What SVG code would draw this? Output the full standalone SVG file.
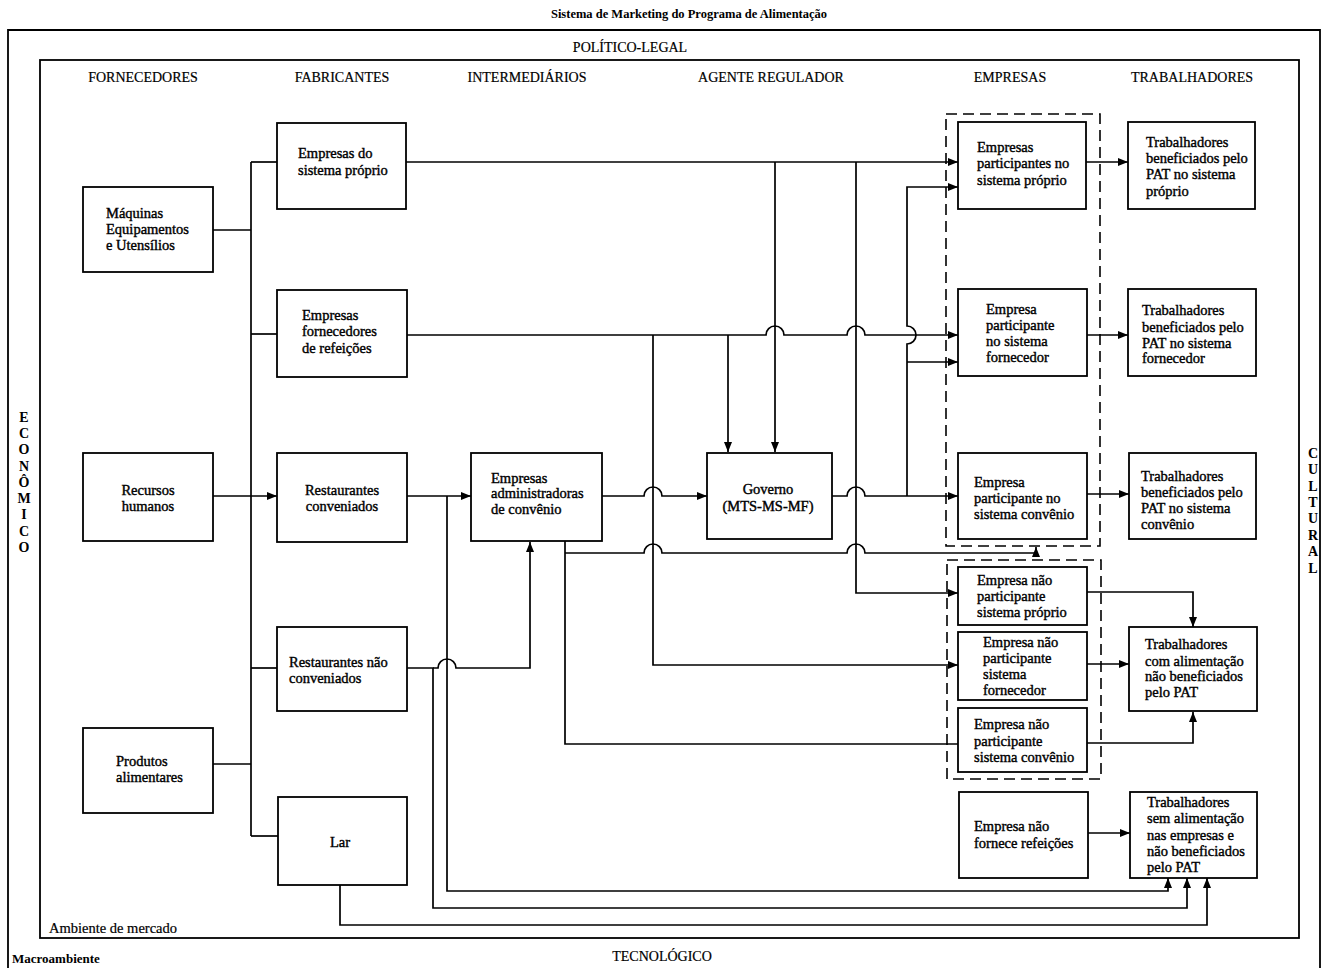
<svg xmlns="http://www.w3.org/2000/svg" width="1328" height="968" viewBox="0 0 1328 968">
<defs>
<style>
.frame{fill:none;stroke:#000;stroke-width:1.8}
.box{fill:#fff;stroke:#000;stroke-width:1.8}
.dash{fill:none;stroke:#000;stroke-width:1.6;stroke-dasharray:11 6}
.c{fill:none;stroke:#000;stroke-width:1.7}
.a{marker-end:url(#ah)}
.t{font-family:"Liberation Serif","Times New Roman",serif;font-size:14.5px;fill:#000;stroke:#000;stroke-width:0.4}
.m{text-anchor:middle}
.h{font-family:"Liberation Serif","Times New Roman",serif;font-size:14px;fill:#000;stroke:#000;stroke-width:0.2;text-anchor:middle}
.v{font-family:"Liberation Serif","Times New Roman",serif;font-size:14px;font-weight:bold;fill:#000;text-anchor:middle}
</style>
<marker id="ah" viewBox="0 0 10 8" refX="10" refY="4" markerWidth="10" markerHeight="8" markerUnits="userSpaceOnUse" orient="auto"><path d="M0,0 L10,4 L0,8 z" fill="#000"/></marker>
</defs>
<rect width="1328" height="968" fill="#fff"/>

<g id="frames">
<path class="frame" d="M8,968 V30 H1320 V968"/>
<rect class="frame" x="40" y="60" width="1259" height="878"/>
<rect class="dash" x="946" y="114" width="154" height="432"/>
<rect class="dash" x="947" y="560" width="154" height="219"/>
</g>

<g id="labels">
<text x="689" y="18" style="font-family:'Liberation Serif','Times New Roman',serif;font-size:12.5px;font-weight:bold;text-anchor:middle">Sistema de Marketing do Programa de Alimentação</text>
<text class="h" x="630" y="52">POLÍTICO-LEGAL</text>
<text class="h" x="143" y="82">FORNECEDORES</text>
<text class="h" x="342" y="82">FABRICANTES</text>
<text class="h" x="527" y="82">INTERMEDIÁRIOS</text>
<text class="h" x="771" y="82">AGENTE REGULADOR</text>
<text class="h" x="1010" y="82">EMPRESAS</text>
<text class="h" x="1192" y="82">TRABALHADORES</text>
<text class="h" x="662" y="961">TECNOLÓGICO</text>
<text x="49" y="933" style="font-family:'Liberation Serif','Times New Roman',serif;font-size:14.5px;stroke:#000;stroke-width:0.2">Ambiente de mercado</text>
<text x="12" y="963" style="font-family:'Liberation Serif','Times New Roman',serif;font-size:13px;font-weight:bold">Macroambiente</text>
<g class="v">
<text x="24" y="422">E</text><text x="24" y="438">C</text><text x="24" y="454">O</text><text x="24" y="471">N</text><text x="24" y="487">Ô</text><text x="24" y="503">M</text><text x="24" y="519">I</text><text x="24" y="536">C</text><text x="24" y="552">O</text>
</g>
<g class="v">
<text x="1313" y="458">C</text><text x="1313" y="474">U</text><text x="1313" y="491">L</text><text x="1313" y="507">T</text><text x="1313" y="523">U</text><text x="1313" y="540">R</text><text x="1313" y="556">A</text><text x="1313" y="573">L</text>
</g>
</g>

<g id="connectors">
<path class="c" d="M251,162 V836"/>
<path class="c" d="M213,230 H251"/>
<path class="c" d="M213,764 H251"/>
<path class="c" d="M251,162 H277"/>
<path class="c" d="M251,334 H277"/>
<path class="c" d="M251,668 H277"/>
<path class="c" d="M251,836 H278"/>
<path class="c a" d="M213,496 H277"/>
<path class="c a" d="M407,496 H471"/>
<path class="c a" d="M447,496 V891 H1168 V878"/>
<path class="c a" d="M407,668 H433 V908 H1187 V878"/>
<path class="c a" d="M433,668 H438 a9,9 0 0 1 18,0 H530 V542"/>
<path class="c a" d="M340,885 V925 H1207 V878"/>
<path class="c a" d="M406,162 H958"/>
<path class="c a" d="M775,162 V452"/>
<path class="c a" d="M856,162 V593 H958"/>
<path class="c a" d="M407,335 H766 a9,9 0 0 1 18,0 H847 a9,9 0 0 1 18,0 H958"/>
<path class="c a" d="M653,335 V665 H958"/>
<path class="c a" d="M728,335 V452"/>
<path class="c a" d="M602,496 H644 a9,9 0 0 1 18,0 H707"/>
<path class="c" d="M565,541 V744 H958"/>
<path class="c a" d="M565,553 H644 a9,9 0 0 1 18,0 H847 a9,9 0 0 1 18,0 H1036 V547"/>
<path class="c a" d="M832,496 H847 a9,9 0 0 1 18,0 H958"/>
<path class="c a" d="M907,496 V344 a9,9 0 0 0 0,-18 V187 H958"/>
<path class="c a" d="M907,362 H958"/>
<path class="c a" d="M1086,162 H1128"/>
<path class="c a" d="M1087,335 H1128"/>
<path class="c a" d="M1087,494 H1129"/>
<path class="c a" d="M1087,592 H1193 V627"/>
<path class="c a" d="M1087,664 H1129"/>
<path class="c a" d="M1087,743 H1193 V712"/>
<path class="c a" d="M1088,833 H1130"/>
</g>

<g id="n1"><rect class="box" x="83" y="187" width="130" height="85"/><text class="t" x="106" y="218">Máquinas<tspan x="106" y="234">Equipamentos</tspan><tspan x="106" y="250">e Utensílios</tspan></text></g>
<g id="n2"><rect class="box" x="83" y="453" width="130" height="88"/><text class="t m" x="148" y="495">Recursos<tspan x="148" y="511">humanos</tspan></text></g>
<g id="n3"><rect class="box" x="83" y="728" width="130" height="85"/><text class="t" x="116" y="766">Produtos<tspan x="116" y="782">alimentares</tspan></text></g>
<g id="n4"><rect class="box" x="277" y="123" width="129" height="86"/><text class="t" x="298" y="158">Empresas do<tspan x="298" y="175">sistema próprio</tspan></text></g>
<g id="n5"><rect class="box" x="277" y="290" width="130" height="87"/><text class="t" x="302" y="320">Empresas<tspan x="302" y="336">fornecedores</tspan><tspan x="302" y="353">de refeições</tspan></text></g>
<g id="n6"><rect class="box" x="277" y="453" width="130" height="89"/><text class="t m" x="342" y="495">Restaurantes<tspan x="342" y="511">conveniados</tspan></text></g>
<g id="n7"><rect class="box" x="277" y="627" width="130" height="84"/><text class="t" x="289" y="667">Restaurantes não<tspan x="289" y="683">conveniados</tspan></text></g>
<g id="n8"><rect class="box" x="278" y="797" width="129" height="88"/><text class="t m" x="340" y="847">Lar</text></g>
<g id="n9"><rect class="box" x="471" y="453" width="131" height="88"/><text class="t" x="491" y="483">Empresas<tspan x="491" y="498">administradoras</tspan><tspan x="491" y="514">de convênio</tspan></text></g>
<g id="n10"><rect class="box" x="707" y="453" width="125" height="86"/><text class="t m" x="768" y="494">Governo<tspan x="768" y="511">(MTS-MS-MF)</tspan></text></g>
<g id="n11"><rect class="box" x="958" y="122" width="128" height="87"/><text class="t" x="977" y="152">Empresas<tspan x="977" y="168">participantes no</tspan><tspan x="977" y="185">sistema próprio</tspan></text></g>
<g id="n12"><rect class="box" x="958" y="289" width="129" height="87"/><text class="t" x="986" y="314">Empresa<tspan x="986" y="330">participante</tspan><tspan x="986" y="346">no sistema</tspan><tspan x="986" y="362">fornecedor</tspan></text></g>
<g id="n13"><rect class="box" x="958" y="453" width="129" height="86"/><text class="t" x="974" y="487">Empresa<tspan x="974" y="503">participante no</tspan><tspan x="974" y="519">sistema convênio</tspan></text></g>
<g id="n14"><rect class="box" x="958" y="567" width="129" height="58"/><text class="t" x="977" y="585">Empresa não<tspan x="977" y="601">participante</tspan><tspan x="977" y="617">sistema próprio</tspan></text></g>
<g id="n15"><rect class="box" x="958" y="632" width="129" height="68"/><text class="t" x="983" y="647">Empresa não<tspan x="983" y="663">participante</tspan><tspan x="983" y="679">sistema</tspan><tspan x="983" y="695">fornecedor</tspan></text></g>
<g id="n16"><rect class="box" x="958" y="708" width="129" height="64"/><text class="t" x="974" y="729">Empresa não<tspan x="974" y="746">participante</tspan><tspan x="974" y="762">sistema convênio</tspan></text></g>
<g id="n17"><rect class="box" x="959" y="792" width="129" height="86"/><text class="t" x="974" y="831">Empresa não<tspan x="974" y="848">fornece refeições</tspan></text></g>
<g id="n18"><rect class="box" x="1128" y="122" width="127" height="87"/><text class="t" x="1146" y="147">Trabalhadores<tspan x="1146" y="163">beneficiados pelo</tspan><tspan x="1146" y="179">PAT no sistema</tspan><tspan x="1146" y="196">próprio</tspan></text></g>
<g id="n19"><rect class="box" x="1128" y="289" width="128" height="87"/><text class="t" x="1142" y="315">Trabalhadores<tspan x="1142" y="332">beneficiados pelo</tspan><tspan x="1142" y="348">PAT no sistema</tspan><tspan x="1142" y="363">fornecedor</tspan></text></g>
<g id="n20"><rect class="box" x="1129" y="453" width="127" height="86"/><text class="t" x="1141" y="481">Trabalhadores<tspan x="1141" y="497">beneficiados pelo</tspan><tspan x="1141" y="513">PAT no sistema</tspan><tspan x="1141" y="529">convênio</tspan></text></g>
<g id="n21"><rect class="box" x="1129" y="627" width="128" height="84"/><text class="t" x="1145" y="649">Trabalhadores<tspan x="1145" y="666">com alimentação</tspan><tspan x="1145" y="681">não beneficiados</tspan><tspan x="1145" y="697">pelo PAT</tspan></text></g>
<g id="n22"><rect class="box" x="1130" y="792" width="127" height="86"/><text class="t" x="1147" y="807">Trabalhadores<tspan x="1147" y="823">sem alimentação</tspan><tspan x="1147" y="840">nas empresas e</tspan><tspan x="1147" y="856">não beneficiados</tspan><tspan x="1147" y="872">pelo PAT</tspan></text></g>
</svg>
